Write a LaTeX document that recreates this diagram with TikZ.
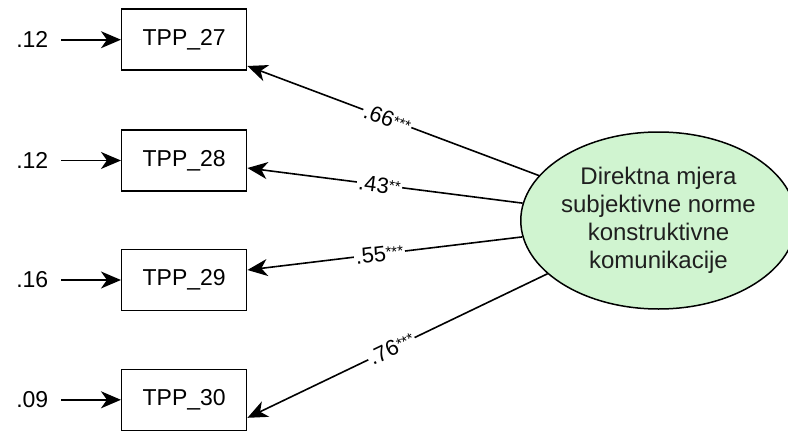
\documentclass[tikz,border=0pt]{standalone}
\usepackage{fontspec}
\setmainfont{Liberation Sans}
\usetikzlibrary{arrows.meta,shapes.geometric}
\definecolor{latfill}{RGB}{208,244,208}
\newcommand\sigstars[1]{{\fontsize{15}{15}\selectfont\raisebox{3pt}{#1}}}
\begin{document}
\begin{tikzpicture}[x=1pt,y=-1pt,
  obs/.style={draw,line width=1.5pt,minimum width=125pt,minimum height=61pt,inner sep=0pt,font=\fontsize{23}{27}\selectfont},
  latent/.style={draw,ellipse,fill=latfill,line width=1.5pt,minimum width=257pt,minimum height=177pt,inner sep=0pt,align=center,font=\fontsize{24}{28}\selectfont,text=black!88},
  err/.style={inner xsep=13pt,inner ysep=0pt,font=\fontsize{23}{27}\selectfont},
  arr/.style={-{Stealth[length=20pt,width=17pt,inset=6pt]},line width=1.6pt},
  coef/.style={fill=white,inner sep=1.5pt,sloped,font=\fontsize{22}{25}\selectfont,pos=0.52}
]
\useasboundingbox (0,0) rectangle (788,431);
\node[latent] (lat) at (658.5,220.5) {Direktna mjera\\subjektivne norme\\konstruktivne\\komunikacije};
\node[obs] (b27) at (184.2,39.7) {TPP\_27};
\node[obs] (b28) at (184.2,160.5) {TPP\_28};
\node[obs] (b29) at (184.2,280) {TPP\_29};
\node[obs] (b30) at (184.2,399.8) {TPP\_30};
\node[err] (e27) at (32.3,39.7) {.12};
\node[err] (e28) at (32.3,160.5) {.12};
\node[err] (e29) at (32.3,280) {.16};
\node[err] (e30) at (32.3,399.8) {.09};
\draw[arr] (e27) -- (b27);
\draw[arr] (e28) -- (b28);
\draw[arr] (e29) -- (b29);
\draw[arr] (e30) -- (b30);
\draw[arr] (lat) -- node[coef]{.66\sigstars{***}} ([yshift=-26.3pt]b27.east);
\draw[arr] (lat) -- node[coef]{.43\sigstars{**}} ([yshift=-7.5pt]b28.east);
\draw[arr] (lat) -- node[coef]{.55\sigstars{***}} ([yshift=10pt]b29.east);
\draw[arr] (lat) -- node[coef]{.76\sigstars{***}} ([yshift=-18pt]b30.east);
\end{tikzpicture}
\end{document}
